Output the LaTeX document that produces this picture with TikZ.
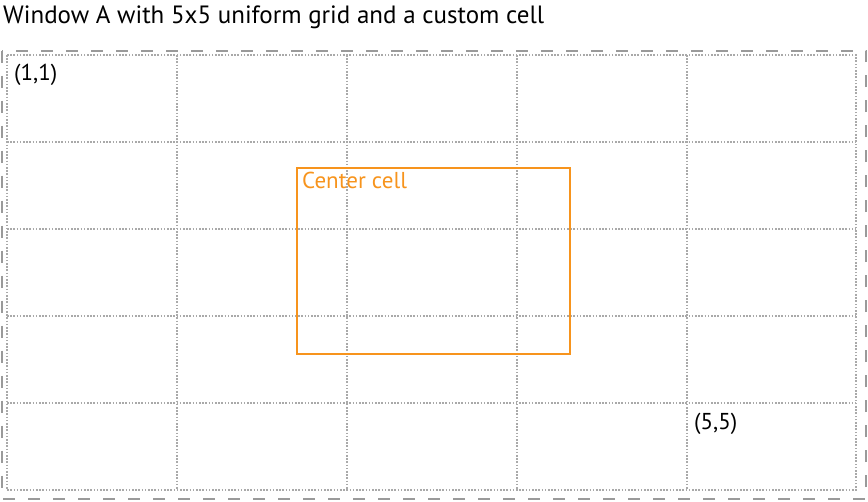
\documentclass[tikz,border=0pt]{standalone}
\usepackage{fontspec}
\setmainfont{PT Sans}
\usetikzlibrary{positioning}
\definecolor{wgray}{HTML}{9A9A9A}
\definecolor{worange}{HTML}{F7941D}

\begin{document}
\begin{tikzpicture}[x=1pt, y=-1pt,
  gridline/.style={wgray!85, line width=1.3pt, dash pattern=on 1.6pt off 1.6pt},
  lbl/.style={font=\fontsize{23}{26}\selectfont, inner sep=0pt, anchor=base west}]
\useasboundingbox (0,0) rectangle (868,501);
\node[lbl, font=\fontsize{25}{28}\selectfont] (title) at (3,23) {Window A with 5x5 uniform grid and a custom cell};
% outer window
\draw[wgray, line width=2pt, dash pattern=on 12pt off 13pt] (1.5,50.5) rectangle (866,499);
% 5x5 grid
\draw[gridline] (7,55) rectangle (856,490);
\foreach \x in {177,347,517,687}
  \draw[gridline] (\x,55) -- (\x,490);
\foreach \y in {142,229,316,403}
  \draw[gridline] (7,\y) -- (856,\y);
\node[lbl] (first) at (14,80) {(1,1)};
\node[lbl] (last) at (694,429) {(5,5)};
% custom cell
\node[draw=worange, line width=1.6pt, minimum width=273pt, minimum height=186pt,
  anchor=north west, inner sep=0pt] (centercell) at (296,167) {};
\node[lbl, text=worange, anchor=base west] (centerlbl) at ([shift={(6pt,-21pt)}]centercell.north west) {Center cell};
\end{tikzpicture}
\end{document}
